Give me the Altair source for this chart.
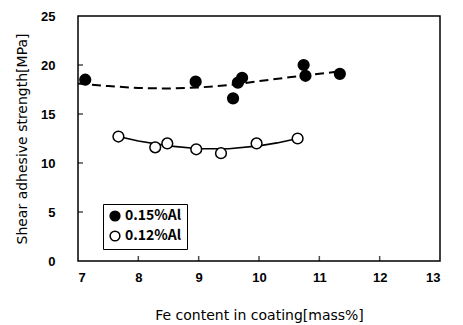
import altair as alt
import pandas as pd

# Data
fe_015 = [7.12, 8.95, 9.57, 9.65, 9.72, 10.74, 10.77, 11.34]
st_015 = [18.5, 18.3, 16.6, 18.2, 18.7, 20.0, 18.9, 19.1]
fe_012 = [7.67, 8.28, 8.48, 8.96, 9.37, 9.96, 10.64]
st_012 = [12.7, 11.6, 12.0, 11.4, 11.0, 12.0, 12.5]

# fitted trend curves
fit_x_015 = [7.0, 7.5, 8.0, 8.5, 9.0, 9.5, 10.0, 10.5, 11.0, 11.34]
fit_y_015 = [18.1, 17.85, 17.65, 17.6, 17.7, 17.95, 18.35, 18.75, 19.1, 19.35]
fit_x_012 = [7.67, 8.0, 8.5, 9.0, 9.5, 10.0, 10.3, 10.64]
fit_y_012 = [12.7, 12.25, 11.75, 11.45, 11.45, 11.75, 12.05, 12.5]

x_ticks = [8, 9, 10, 11, 12]
y_ticks = [5, 10, 15, 20]

labels = ["0.15%Al", "0.12%Al"]
FONT = "Noto Sans CJK JP"
LFONT = "Liberation Sans"
TFONT = "DejaVu Sans"

pts = pd.DataFrame({
    "fe": fe_015 + fe_012,
    "st": st_015 + st_012,
    "series": [labels[0]] * len(fe_015) + [labels[1]] * len(fe_012),
})
fit015 = pd.DataFrame({"fe": fit_x_015, "st": fit_y_015})
fit012 = pd.DataFrame({"fe": fit_x_012, "st": fit_y_012})
xt = pd.DataFrame({"fe": x_ticks, "st": [0] * len(x_ticks)})
yt = pd.DataFrame({"fe": [7] * len(y_ticks), "st": y_ticks})

xs = alt.Scale(domain=[7, 13], nice=False, zero=False)
ys = alt.Scale(domain=[0, 25], nice=False)

xaxis = alt.Axis(values=[7, 8, 9, 10, 11, 12, 13], ticks=False, grid=False,
                 domain=False, labelPadding=10, titlePadding=24,
                 title="Fe content in coating[mass%]")
yaxis = alt.Axis(values=[0, 5, 10, 15, 20, 25], ticks=False, grid=False,
                 domain=False, labelPadding=23, titlePadding=11,
                 title="Shear adhesive strength[MPa]")

X = alt.X("fe:Q", scale=xs, axis=xaxis)
Y = alt.Y("st:Q", scale=ys, axis=yaxis)

line015 = alt.Chart(fit015).mark_line(color="black", strokeWidth=2,
                                      strokeDash=[9, 5]).encode(x=X, y=Y)
line012 = alt.Chart(fit012).mark_line(color="black", strokeWidth=1.6).encode(x=X, y=Y)

points = alt.Chart(pts).mark_circle(size=115, stroke="black", strokeWidth=1.5,
                                    opacity=1).encode(
    x=X, y=Y,
    fill=alt.Fill("series:N", scale=alt.Scale(domain=labels, range=["black", "white"]),
                  legend=alt.Legend(title=None, orient="none", legendX=25, legendY=188,
                                    strokeColor="black", fillColor="white",
                                    padding=5, symbolType="circle", symbolSize=95,
                                    symbolStrokeColor="black", symbolStrokeWidth=1.5,
                                    symbolOpacity=1, labelFont=FONT, labelFontSize=14,
                                    labelFontWeight="bold", rowPadding=4,
                                    labelOffset=3)),
)

xticks = alt.Chart(xt).mark_tick(orient="vertical", size=5, thickness=1.5,
                                 color="black", yOffset=-2.5).encode(x=X, y=Y)
yticks = alt.Chart(yt).mark_tick(orient="horizontal", size=5, thickness=1.5,
                                 color="black", xOffset=2.5).encode(x=X, y=Y)

chart = alt.layer(xticks, yticks, line015, line012, points).properties(
    width=362, height=245,
    background="white",
    autosize=alt.AutoSizeParams(type="none"),
    padding={"left": 70, "top": 8, "right": 10, "bottom": 64},
).configure_view(
    stroke="black", strokeWidth=1.5
).configure_axis(
    labelFont=LFONT, labelFontSize=13, labelColor="black", labelFontWeight="bold",
    titleFont=TFONT, titleFontSize=14, titleColor="black", titleFontWeight="normal",
)

chart.save("out.html", embed_options={"renderer": "svg", "actions": False})
